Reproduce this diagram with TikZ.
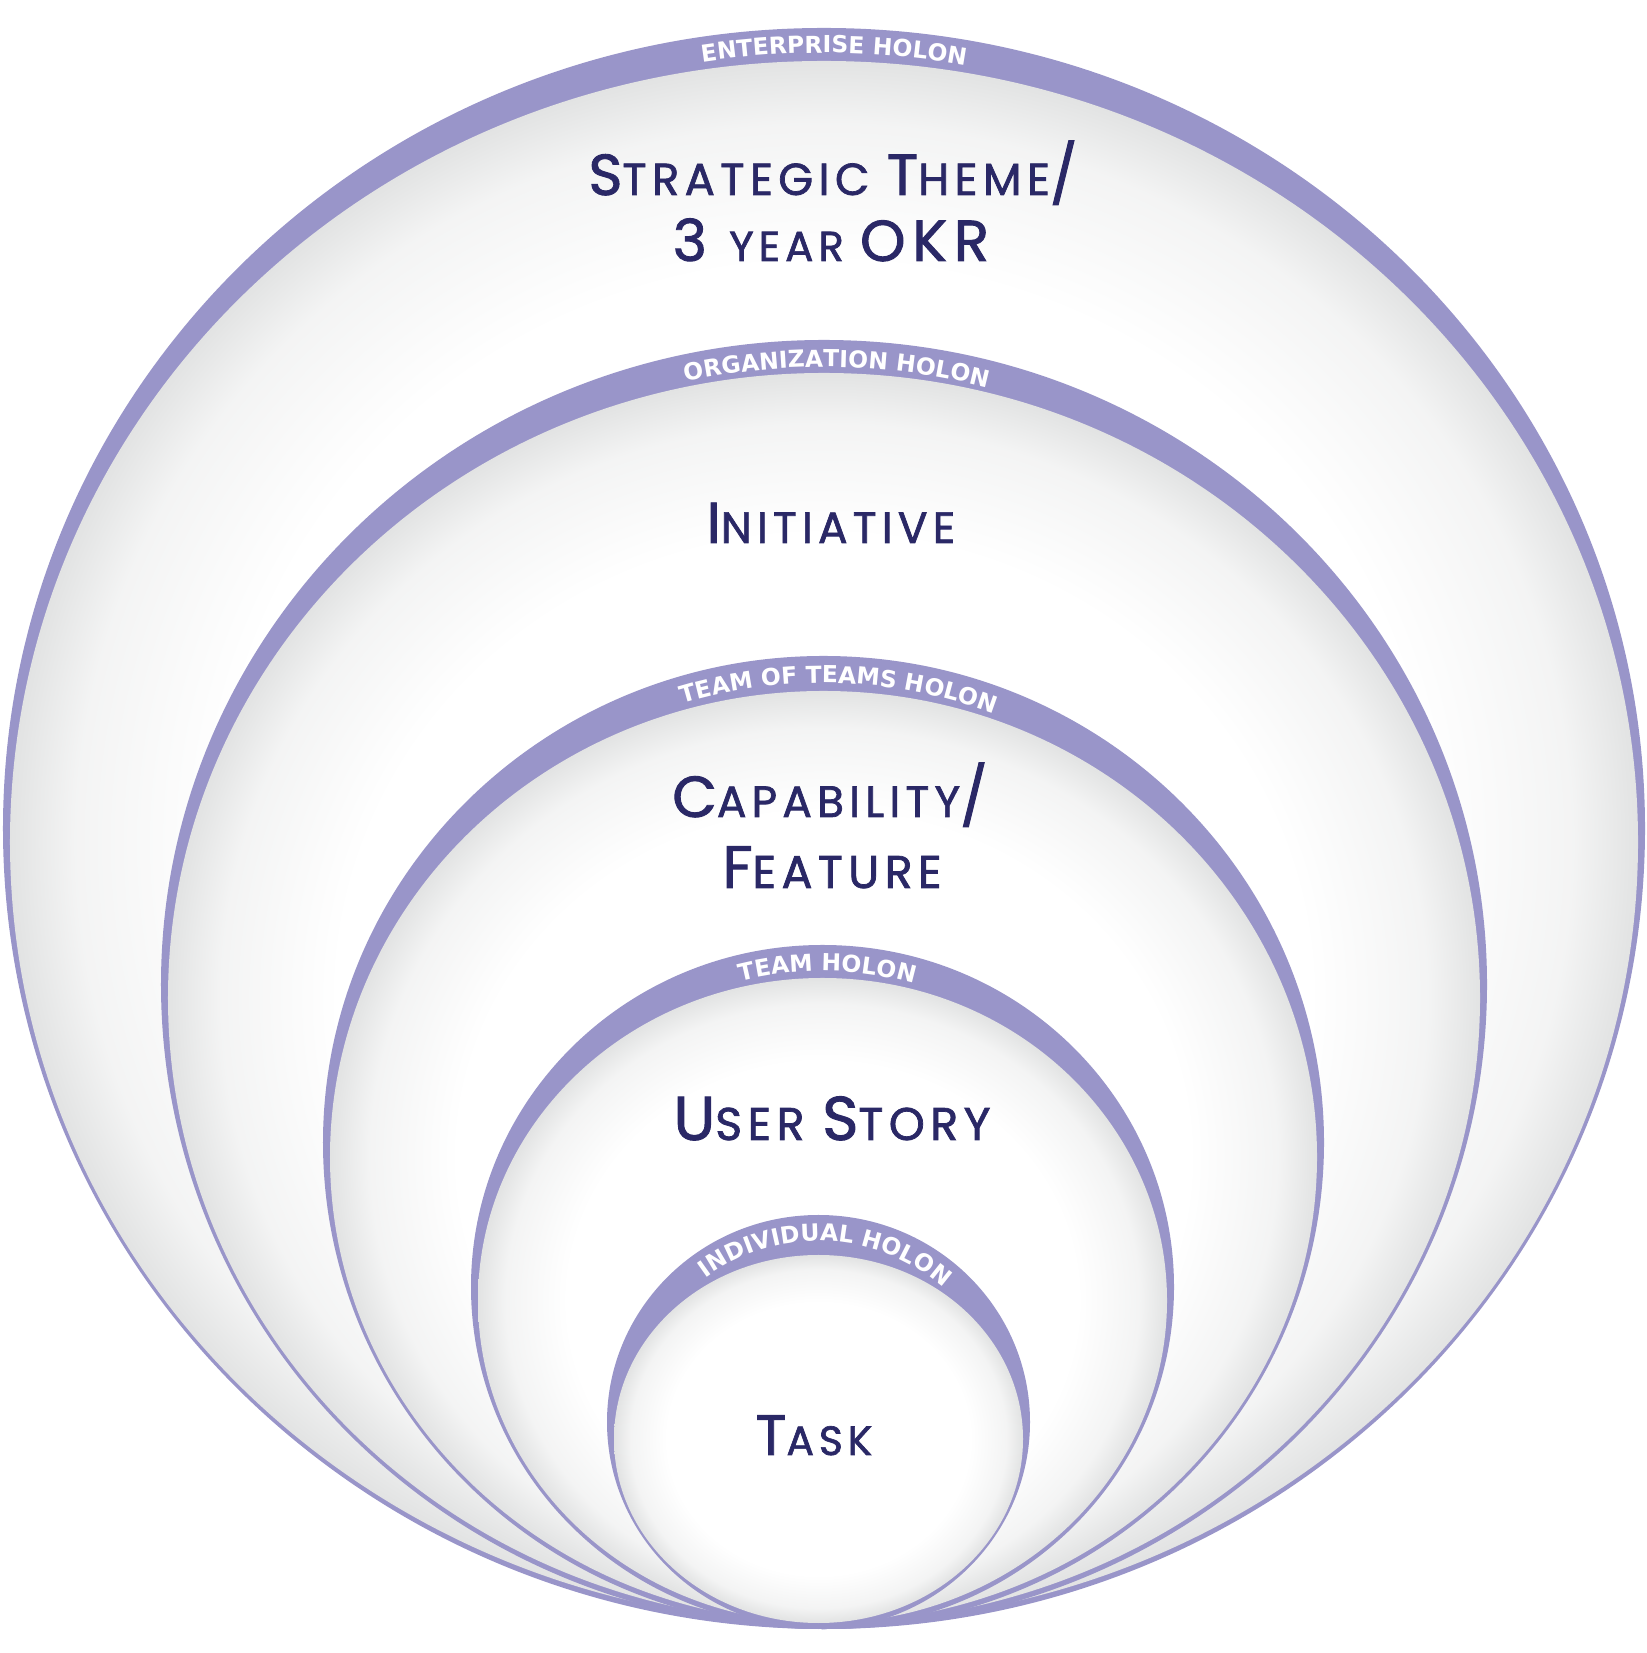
\documentclass[tikz,border=0pt]{standalone}
\usepackage{fontspec}
\usetikzlibrary{decorations.text}
\newfontfamily\hand{Poppins}[LetterSpace=12,FakeBold=1.6]
\newfontfamily\lblf{DejaVu Sans}
\definecolor{ringpurple}{RGB}{153,149,201}
\definecolor{navyink}{RGB}{42,40,102}
\definecolor{edgegrey}{RGB}{226,227,227}
\pgfdeclareradialshading{holonshade}{\pgfpoint{0bp}{0bp}}{color(0bp)=(white); color(18.5bp)=(white); color(23bp)=(edgegrey!40!white); color(25bp)=(edgegrey); color(50bp)=(edgegrey)}
\newcommand\fs[1]{\fontsize{#1}{#1}\selectfont}
\newcommand\lblfont{\lblf\bfseries\fontsize{23.5}{23.5}\selectfont}
% #1 cx, #2 cy, #3 rx, #4 ry, #5 label, #6 shift angle, #7 half span, #8 baseline offset, #9 top band
\newcommand\holon[9]{%
  \pgfmathsetmacro\irx{#3-7}%
  \pgfmathsetmacro\iry{#4-(#9+6)/2}%
  \pgfmathsetmacro\icy{#2-(#9-6)/2}%
  \pgfmathsetmacro\brx{#3-#8}%
  \pgfmathsetmacro\bry{#4-#8}%
  \pgfmathsetmacro\sa{90+#7-#6}%
  \pgfmathsetmacro\ea{90-#7-#6}%
  \fill[ringpurple] (#1,#2) ellipse [x radius=#3bp, y radius=#4bp];
  \shade[shading=holonshade] (#1,\icy) ellipse [x radius=\irx bp, y radius=\iry bp];
  \path[decorate, decoration={text along path, text={|\lblfont|#5}, text align=center, text color=white}]
    (#1,#2) ++(\sa:\brx bp and \bry bp) arc [start angle=\sa, end angle=\ea, x radius=\brx bp, y radius=\bry bp];
}
\begin{document}
\begin{tikzpicture}[x=1bp,y=1bp, holontext/.style={text=navyink, anchor=base, inner sep=0pt, font=\hand}]
\useasboundingbox (0,0) rectangle (1647,1653);
\holon{824}{824.5}{821}{800.5}{ENTERPRISE HOLON}{0.72}{45}{25}{33}
\holon{824}{668.5}{663}{644.5}{ORGANIZATION HOLON}{1.17}{45}{27}{33}
\holon{823.5}{510.5}{500.5}{486.5}{TEAM OF TEAMS HOLON}{1.93}{50}{27}{35}
\holon{822.5}{366}{351.5}{342}{TEAM HOLON}{0.88}{50}{26}{33}
\holon{818.5}{231}{211.5}{207}{INDIVIDUAL HOLON}{2.5}{80}{26}{40}
\node[holontext] (strat1) at (833,1458) {\fs{58}S\fs{45}TRATEGIC \fs{58}T\fs{45}HEME\fs{58}/};
\node[holontext] (strat2) at (831,1392) {\fs{58}3 \fs{42}YEAR \fs{58}OKR};
\node[holontext] (init) at (831,1110) {\fs{58}I\fs{44}NITIATIVE};
\node[holontext] (cap) at (830,836) {\fs{58}C\fs{44}APABILITY\fs{58}/};
\node[holontext] (feat) at (832,765) {\fs{60}F\fs{46}EATURE};
\node[holontext] (story) at (832,513) {\fs{62}U\fs{46}SER \fs{62}S\fs{46}TORY};
\node[holontext] (task) at (814,198) {\fs{57}T\fs{41}ASK};
\end{tikzpicture}
\end{document}
